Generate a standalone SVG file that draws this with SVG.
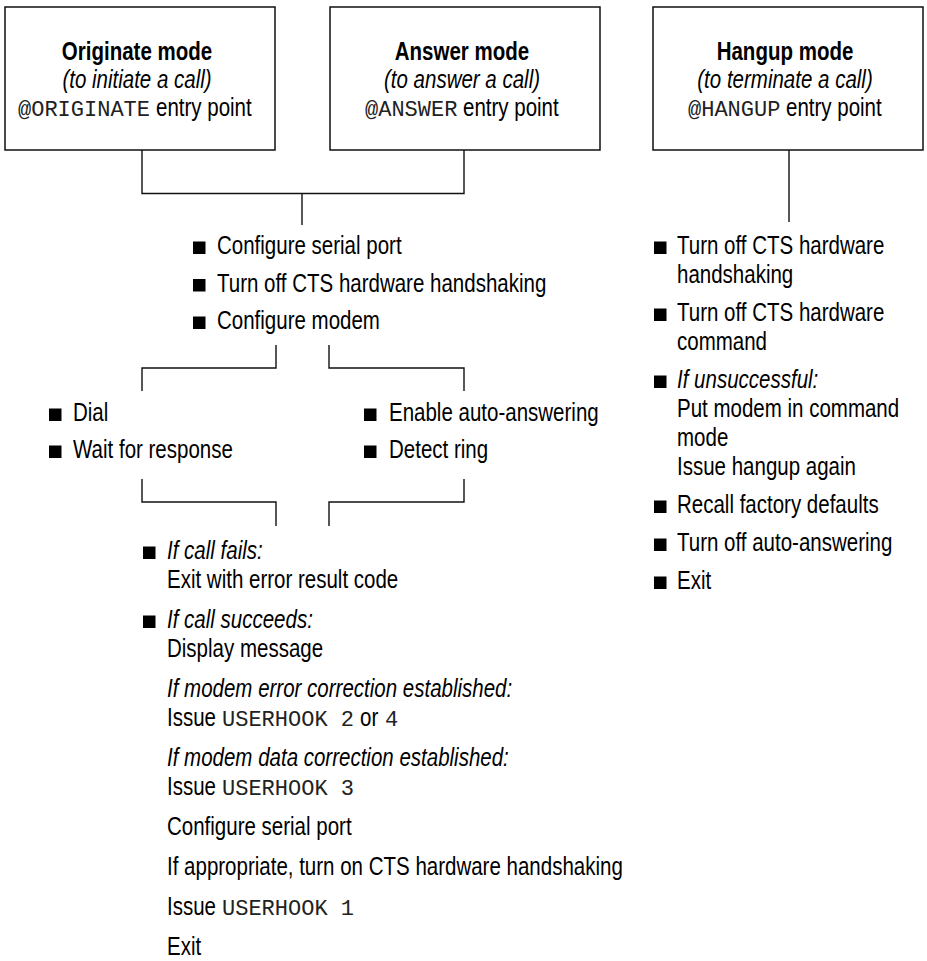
<svg xmlns="http://www.w3.org/2000/svg" width="927" height="961" viewBox="0 0 927 961">
<style>
  .box { fill: #fff; stroke: #111; stroke-width: 1.5; }
  .ln { fill: none; stroke: #111; stroke-width: 1.4; }
  .n { font-family: "Liberation Sans", Arial, sans-serif; font-size: 25px; fill: #000; }
  .b { font-weight: bold; }
  .i { font-style: italic; }
  .c { text-anchor: middle; }
  .m { font-family: "Liberation Mono", "Courier New", monospace; font-size: 22px; fill: #222; }
  .bul { fill: #000; }
</style>
<rect width="927" height="961" fill="#fff"/>

<g id="connectors">
  <path class="ln" d="M142 150 V193.5 H464 V150"/>
  <path class="ln" d="M302 193.5 V225"/>
  <path class="ln" d="M789 150 V222"/>
  <path class="ln" d="M276 345 V368 H142 V391"/>
  <path class="ln" d="M329 345 V368 H464 V391"/>
  <path class="ln" d="M142 479 V502 H276 V526"/>
  <path class="ln" d="M464 479 V502 H329 V526"/>
</g>

<g id="originate">
  <rect class="box" x="5" y="7" width="270" height="143"/>
  <text class="n b c" transform="translate(137 60) scale(0.82 1)">Originate mode</text>
  <text class="n i c" transform="translate(137 88) scale(0.82 1)">(to initiate a call)</text>
  <text class="m" x="18" y="116">@ORIGINATE</text>
  <text class="n" transform="translate(156 116) scale(0.82 1)">entry point</text>
</g>

<g id="answer">
  <rect class="box" x="330" y="7" width="270" height="143"/>
  <text class="n b c" transform="translate(462 60) scale(0.82 1)">Answer mode</text>
  <text class="n i c" transform="translate(462 88) scale(0.82 1)">(to answer a call)</text>
  <text class="m" x="365" y="116">@ANSWER</text>
  <text class="n" transform="translate(463 116) scale(0.82 1)">entry point</text>
</g>

<g id="hangup">
  <rect class="box" x="653" y="7" width="270" height="143"/>
  <text class="n b c" transform="translate(785 60) scale(0.82 1)">Hangup mode</text>
  <text class="n i c" transform="translate(785 88) scale(0.82 1)">(to terminate a call)</text>
  <text class="m" x="688" y="116">@HANGUP</text>
  <text class="n" transform="translate(786 116) scale(0.82 1)">entry point</text>
</g>

<g id="common-setup">
  <rect class="bul" x="193" y="241.5" width="12.5" height="12.5"/>
  <text class="n" transform="translate(217 254) scale(0.82 1)">Configure serial port</text>
  <rect class="bul" x="193" y="279" width="12.5" height="12.5"/>
  <text class="n" transform="translate(217 291.5) scale(0.82 1)">Turn off CTS hardware handshaking</text>
  <rect class="bul" x="193" y="316.5" width="12.5" height="12.5"/>
  <text class="n" transform="translate(217 329) scale(0.82 1)">Configure modem</text>
</g>

<g id="originate-steps">
  <rect class="bul" x="49" y="408.5" width="12.5" height="12.5"/>
  <text class="n" transform="translate(73 421) scale(0.82 1)">Dial</text>
  <rect class="bul" x="49" y="445.5" width="12.5" height="12.5"/>
  <text class="n" transform="translate(73 458) scale(0.82 1)">Wait for response</text>
</g>

<g id="answer-steps">
  <rect class="bul" x="364" y="408.5" width="12.5" height="12.5"/>
  <text class="n" transform="translate(389 421) scale(0.82 1)">Enable auto-answering</text>
  <rect class="bul" x="364" y="445.5" width="12.5" height="12.5"/>
  <text class="n" transform="translate(389 458) scale(0.82 1)">Detect ring</text>
</g>

<g id="result-steps">
  <rect class="bul" x="143" y="546.5" width="12.5" height="12.5"/>
  <text class="n i" transform="translate(167 559) scale(0.82 1)">If call fails:</text>
  <text class="n" transform="translate(167 588) scale(0.82 1)">Exit with error result code</text>
  <rect class="bul" x="143" y="615.5" width="12.5" height="12.5"/>
  <text class="n i" transform="translate(167 628) scale(0.82 1)">If call succeeds:</text>
  <text class="n" transform="translate(167 657) scale(0.82 1)">Display message</text>
  <text class="n i" transform="translate(167 697) scale(0.82 1)">If modem error correction established:</text>
  <text class="n" transform="translate(167 726) scale(0.82 1)">Issue</text>
  <text class="m" x="222" y="726">USERHOOK 2</text>
  <text class="n" transform="translate(360 726) scale(0.82 1)">or</text>
  <text class="m" x="385" y="726">4</text>
  <text class="n i" transform="translate(167 766) scale(0.82 1)">If modem data correction established:</text>
  <text class="n" transform="translate(167 795) scale(0.82 1)">Issue</text>
  <text class="m" x="222" y="795">USERHOOK 3</text>
  <text class="n" transform="translate(167 835) scale(0.82 1)">Configure serial port</text>
  <text class="n" transform="translate(167 875) scale(0.82 1)">If appropriate, turn on CTS hardware handshaking</text>
  <text class="n" transform="translate(167 915) scale(0.82 1)">Issue</text>
  <text class="m" x="222" y="915">USERHOOK 1</text>
  <text class="n" transform="translate(167 955) scale(0.82 1)">Exit</text>
</g>

<g id="hangup-steps">
  <rect class="bul" x="654" y="241.5" width="12.5" height="12.5"/>
  <text class="n" transform="translate(677 254) scale(0.82 1)">Turn off CTS hardware</text>
  <text class="n" transform="translate(677 283) scale(0.82 1)">handshaking</text>
  <rect class="bul" x="654" y="308.5" width="12.5" height="12.5"/>
  <text class="n" transform="translate(677 321) scale(0.82 1)">Turn off CTS hardware</text>
  <text class="n" transform="translate(677 350) scale(0.82 1)">command</text>
  <rect class="bul" x="654" y="375.5" width="12.5" height="12.5"/>
  <text class="n i" transform="translate(677 388) scale(0.82 1)">If unsuccessful:</text>
  <text class="n" transform="translate(677 417) scale(0.82 1)">Put modem in command</text>
  <text class="n" transform="translate(677 446) scale(0.82 1)">mode</text>
  <text class="n" transform="translate(677 475) scale(0.82 1)">Issue hangup again</text>
  <rect class="bul" x="654" y="500.5" width="12.5" height="12.5"/>
  <text class="n" transform="translate(677 513) scale(0.82 1)">Recall factory defaults</text>
  <rect class="bul" x="654" y="538.5" width="12.5" height="12.5"/>
  <text class="n" transform="translate(677 551) scale(0.82 1)">Turn off auto-answering</text>
  <rect class="bul" x="654" y="576.5" width="12.5" height="12.5"/>
  <text class="n" transform="translate(677 589) scale(0.82 1)">Exit</text>
</g>
</svg>
